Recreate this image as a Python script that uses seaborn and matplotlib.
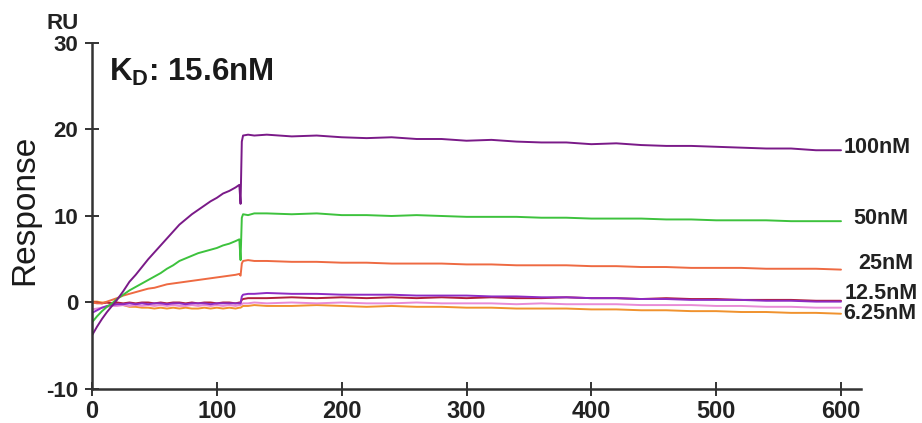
import matplotlib
matplotlib.use("Agg")
import matplotlib.pyplot as plt
import numpy as np
import pandas as pd
import seaborn as sns

# Sampling times (s): association 0-118 s, injection end ~119-121 s, dissociation to 600 s
time_s = [0, 4, 8, 12, 16, 20, 25, 30, 35, 40, 45, 50, 55, 60, 65, 70, 75, 80, 85,
          90, 95, 100, 105, 110, 115, 118, 119, 120, 121, 125, 130,
          140, 160, 180, 200, 220, 240, 260, 280, 300, 320, 340, 360, 380, 400,
          420, 440, 460, 480, 500, 520, 540, 560, 580, 600]

resp_100nM = [-3.8, -2.8, -1.9, -1.1, -0.4, 0.3, 1.3, 2.4, 3.2, 4.1, 5.0, 5.8, 6.6, 7.4,
              8.2, 9.0, 9.6, 10.2, 10.7, 11.2, 11.7, 12.1, 12.6, 12.9, 13.3, 13.6, 11.4,
              18.6, 19.3, 19.4, 19.3, 19.4, 19.2, 19.3, 19.1, 19.0, 19.1, 18.9, 18.9, 18.7,
              18.8, 18.6, 18.5, 18.5, 18.3, 18.4, 18.2, 18.1, 18.1, 18.0, 17.9, 17.8, 17.8,
              17.6, 17.6]
resp_50nM = [-2.3, -1.6, -1.0, -0.5, -0.1, 0.4, 0.9, 1.4, 1.8, 2.2, 2.6, 3.0, 3.4, 3.9,
             4.3, 4.8, 5.1, 5.4, 5.7, 5.9, 6.1, 6.3, 6.6, 6.8, 7.1, 7.3, 4.9,
             9.8, 10.2, 10.1, 10.3, 10.3, 10.2, 10.3, 10.1, 10.1, 10.0, 10.1, 10.0, 9.9,
             9.9, 9.9, 9.8, 9.8, 9.7, 9.7, 9.7, 9.6, 9.6, 9.5, 9.5, 9.5, 9.4, 9.4, 9.4]
resp_25nM = [0.0, -0.1, -0.1, 0.1, 0.3, 0.5, 0.8, 1.0, 1.2, 1.4, 1.6, 1.7, 1.9, 2.1,
             2.2, 2.3, 2.4, 2.5, 2.6, 2.7, 2.8, 2.9, 3.0, 3.1, 3.2, 3.3, 3.1,
             4.5, 4.8, 4.9, 4.8, 4.8, 4.7, 4.7, 4.6, 4.6, 4.5, 4.5, 4.5, 4.4,
             4.4, 4.3, 4.3, 4.3, 4.2, 4.2, 4.1, 4.1, 4.0, 4.0, 4.0, 3.9, 3.9, 3.9, 3.8]
resp_12_5nM = [-1.2, -0.9, -0.6, -0.4, -0.3, -0.2, -0.2, -0.1, -0.2, -0.1, -0.2, -0.1,
               -0.1, -0.2, -0.1, -0.1, -0.2, -0.1, -0.1, -0.1, -0.2, -0.1, -0.1, -0.1,
               -0.1, -0.1, -0.1, 0.7, 0.9, 1.0, 1.0, 1.1, 1.0, 1.0, 0.9, 0.9, 0.9, 0.8,
               0.8, 0.8, 0.7, 0.7, 0.6, 0.6, 0.5, 0.5, 0.4, 0.4, 0.3, 0.3, 0.3, 0.2, 0.2,
               0.1, 0.1]
resp_dark_red = [0.0, 0.0, -0.1, 0.0, -0.1, 0.0, -0.1, 0.0, -0.1, 0.0, 0.0, -0.1, 0.0,
                 -0.1, 0.0, 0.0, -0.1, 0.0, -0.1, 0.0, 0.0, -0.1, 0.0, 0.0, -0.1, 0.0,
                 0.0, 0.3, 0.4, 0.5, 0.5, 0.5, 0.6, 0.5, 0.6, 0.5, 0.6, 0.5, 0.6, 0.5,
                 0.6, 0.5, 0.5, 0.6, 0.5, 0.5, 0.4, 0.5, 0.4, 0.4, 0.3, 0.3, 0.3, 0.2, 0.2]
resp_pink = [-0.8, -0.7, -0.6, -0.5, -0.4, -0.4, -0.3, -0.4, -0.3, -0.4, -0.3, -0.4,
             -0.3, -0.4, -0.3, -0.4, -0.4, -0.3, -0.4, -0.3, -0.4, -0.3, -0.4, -0.3,
             -0.4, -0.3, -0.3, -0.2, -0.1, -0.1, 0.0, -0.1, 0.0, -0.1, 0.0, -0.1, -0.1,
             0.0, -0.1, -0.1, -0.1, -0.2, -0.1, -0.2, -0.2, -0.2, -0.3, -0.3, -0.3,
             -0.4, -0.4, -0.5, -0.5, -0.6, -0.6]
resp_6_25nM = [0.1, 0.1, 0.0, 0.0, -0.1, -0.2, -0.3, -0.5, -0.5, -0.6, -0.6, -0.7, -0.6,
               -0.7, -0.6, -0.7, -0.6, -0.7, -0.7, -0.6, -0.7, -0.6, -0.7, -0.6, -0.7,
               -0.6, -0.6, -0.5, -0.4, -0.4, -0.3, -0.4, -0.4, -0.3, -0.4, -0.5, -0.4,
               -0.5, -0.5, -0.6, -0.6, -0.7, -0.7, -0.7, -0.8, -0.8, -0.9, -0.9, -1.0,
               -1.0, -1.1, -1.1, -1.2, -1.2, -1.3]

trace_names = ["6.25nM", "pink", "dark red", "12.5nM", "25nM", "50nM", "100nM"]
trace_values = [resp_6_25nM, resp_pink, resp_dark_red, resp_12_5nM,
                resp_25nM, resp_50nM, resp_100nM]
trace_colors = ["#F0922E", "#E88BD6", "#B01E3E", "#8E2BC4",
                "#EE6A42", "#3DC23D", "#7A1A88"]

end_labels = ["100nM", "50nM", "25nM", "12.5nM", "6.25nM"]

frames = [pd.DataFrame({"time": time_s, "response": vals, "trace": name})
          for name, vals in zip(trace_names, trace_values)]
df = pd.concat(frames, ignore_index=True)

sns.set_theme(style="white")
plt.rcParams["font.family"] = ["Liberation Sans", "DejaVu Sans"]
plt.rcParams["axes.unicode_minus"] = False
plt.rcParams["mathtext.fontset"] = "custom"
plt.rcParams["mathtext.rm"] = "Liberation Sans:bold"
plt.rcParams["mathtext.bf"] = "Liberation Sans:bold"

fig = plt.figure(figsize=(9.22, 4.23), dpi=100)
ax = fig.add_axes([0.0998, 0.0804, 0.834, 0.818])

sns.lineplot(data=df, x="time", y="response", hue="trace",
             hue_order=trace_names, palette=dict(zip(trace_names, trace_colors)),
             estimator=None, sort=False, legend=False, linewidth=1.4, ax=ax)

ax.set_xlim(0, 616)
ax.set_ylim(-10, 30)
ax.set_xticks([0, 100, 200, 300, 400, 500, 600])
ax.set_yticks([-10, 0, 10, 20, 30])

for side in ("top", "right"):
    ax.spines[side].set_visible(False)
for side in ("left", "bottom"):
    ax.spines[side].set_color("#333333")
    ax.spines[side].set_linewidth(1.8)

ax.tick_params(axis="both", which="major", bottom=True, left=True,
               direction="inout", length=10, width=1.4, color="#333333")
ax.tick_params(axis="x", pad=3)
ax.tick_params(axis="y", pad=5)
for lab in ax.get_xticklabels():
    lab.set_fontweight("bold")
    lab.set_fontsize(17)
    lab.set_color("#222222")
for lab in ax.get_yticklabels():
    lab.set_fontweight("bold")
    lab.set_fontsize(16)
    lab.set_color("#222222")

ax.set_xlabel("")
ax.set_ylabel("")
fig.text(0.027, 0.505, "Response", rotation=90, ha="center", va="center",
         fontsize=24, color="#1a1a1a")
fig.text(0.068, 0.945, "RU", ha="center", va="center", fontsize=16,
         fontweight="bold", color="#222222")
ax.text(14, 26.6, r"K$_\mathregular{D}$: 15.6nM", ha="left", va="center",
        fontsize=22.5, fontweight="bold", color="#1a1a1a")

label_pos = {"100nM": (602, 17.9), "50nM": (610, 9.7), "25nM": (614, 4.5),
             "12.5nM": (603, 1.0), "6.25nM": (602, -1.3)}
for name in end_labels:
    x, y = label_pos[name]
    ax.text(x, y, name, ha="left", va="center", fontsize=15.5,
            fontweight="bold", color="#222222", clip_on=False)

fig.savefig("out.png", dpi=100, facecolor="white")
